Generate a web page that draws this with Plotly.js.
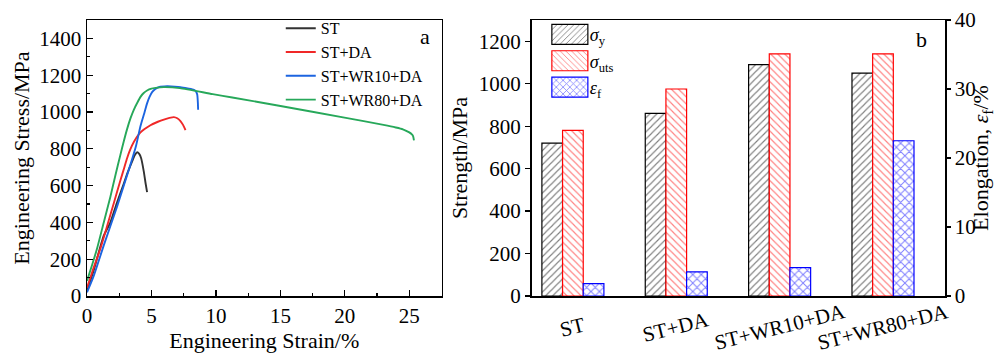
<!DOCTYPE html>
<html>
<head>
<meta charset="utf-8">
<script src="https://cdn.plot.ly/plotly-3.0.1.min.js"></script>
<style>
html,body{margin:0;padding:0;background:#fff;}
#chart{width:996px;height:359px;}
</style>
</head>
<body>
<div id="chart"></div>
<script>
// ---- Tensile curves (engineering strain %, engineering stress MPa) ----
const strainST = [0, 0.5, 1.3, 1.8, 2.3, 2.85, 3.1, 3.5, 3.7, 3.89, 4.05, 4.2, 4.4, 4.55, 4.66];
const stressST = [30, 135, 328, 398, 503, 609, 661, 731, 765, 781, 772, 749, 679, 610, 565];

const strainDA = [0, 0.5, 1.04, 1.6, 2.1, 2.6, 2.9, 3.11, 3.35, 3.63, 4.15, 4.92, 5.5, 5.96, 6.4, 6.74, 7.0, 7.25, 7.45, 7.64];
const stressDA = [45, 150, 258, 390, 510, 630, 700, 749, 795, 837, 889, 928, 947, 959, 968, 972, 966, 951, 930, 902];

const strainWR10 = [0, 0.5, 1.3, 2.33, 3.37, 3.8, 4.15, 4.45, 4.66, 4.85, 5.05, 5.3, 5.57, 6.22, 6.8, 7.25, 7.8, 8.29, 8.45, 8.55, 8.6, 8.62];
const stressWR10 = [20, 105, 275, 486, 714, 815, 924, 995, 1047, 1082, 1108, 1125, 1135, 1140, 1138, 1135, 1128, 1121, 1112, 1095, 1050, 1012];

const strainWR80 = [0, 0.4, 0.78, 1.3, 1.81, 2.2, 2.59, 2.85, 3.11, 3.37, 3.63, 3.9, 4.15, 4.4, 4.66, 5.0, 5.31, 5.96, 7.2, 9.75, 11.27, 14.9, 20.08, 23.0, 23.95, 24.5, 25.0, 25.2, 25.3, 25.36];
const stressWR80 = [82, 170, 258, 400, 538, 655, 767, 840, 907, 965, 1012, 1050, 1082, 1103, 1117, 1127, 1131, 1135, 1130, 1097, 1079, 1034, 968, 930, 916, 906, 889, 878, 868, 846];

const curveNames = ["ST", "ST+DA", "ST+WR10+DA", "ST+WR80+DA"];

// ---- Bar chart ----
const categories = ["ST", "ST+DA", "ST+WR10+DA", "ST+WR80+DA"];
const sigmaY = [720, 860, 1090, 1050];
const sigmaUTS = [780, 975, 1140, 1140];
const elongation = [1.8, 3.5, 4.1, 22.5];

const FONT = "Liberation Serif";
const W = 996, H = 359;
const ML = 87.3, MR = 51, MT = 11, MB = 63;
const PW = W - ML - MR, PH = H - MT - MB;
const px = v => (v - ML) / PW;
const py = v => (H - MB - v) / PH;

const lineColors = ["#333333", "#f02828", "#1c64e0", "#27a85a"];
const curves = [[strainST, stressST], [strainDA, stressDA], [strainWR10, stressWR10], [strainWR80, stressWR80]];

const traces = curves.map((c, i) => ({
  type: "scatter", mode: "lines", x: c[0], y: c[1], name: curveNames[i],
  line: {color: lineColors[i], width: 1.9, shape: "spline", smoothing: 0.6},
  xaxis: "x", yaxis: "y", legend: "legend"
}));

function barTrace(vals, name, color, shape, offset, yaxis, size, sol) {
  return {
    type: "bar", x: categories, y: vals, name: name,
    xaxis: "x2", yaxis: yaxis, legend: "legend2",
    width: 0.2, offset: offset,
    marker: {
      color: "#ffffff",
      line: {color: color, width: 1.2},
      pattern: {shape: shape, fgcolor: color, bgcolor: "#ffffff", size: size, solidity: sol, fillmode: "overlay"}
    }
  };
}
traces.push(barTrace(sigmaY, "<i>σ</i><sub>y</sub>", "#000000", "/", -0.3, "y2", 5, 0.22));
traces.push(barTrace(sigmaUTS, "<i>σ</i><sub>uts</sub>", "#ff0000", "\\", -0.1, "y2", 5, 0.22));
traces.push(barTrace(elongation, "<i>ε</i><sub>f</sub>", "#0000ff", "x", 0.1, "y3", 6, 0.3));

const annotations = categories.map((c, i) => ({
  x: c, xref: "x2", y: py(328), yref: "paper", text: c, showarrow: false,
  textangle: -14, xanchor: "center", yanchor: "middle",
  font: {family: FONT, size: 21, color: "#000"}
}));
annotations.push({x: px(425), y: py(28), xref: "paper", yref: "paper", text: "a", showarrow: false,
  xanchor: "center", yanchor: "middle", font: {family: FONT, size: 22, color: "#000"}});
annotations.push({x: px(922), y: py(31), xref: "paper", yref: "paper", text: "b", showarrow: false,
  xanchor: "center", yanchor: "middle", font: {family: FONT, size: 22, color: "#000"}});

const common = {
  showgrid: false, zeroline: false, showline: true, linewidth: 1.5, linecolor: "#000",
  tickcolor: "#000", tickwidth: 1.2, ticklabeloverflow: "allow",
  tickfont: {family: FONT, size: 21, color: "#000"}
};

const layout = {
  width: W, height: H,
  margin: {l: ML, r: MR, t: MT, b: MB, pad: 0},
  paper_bgcolor: "#fff", plot_bgcolor: "#fff",
  font: {family: FONT, size: 21, color: "#000"},
  showlegend: true,
  xaxis: Object.assign({}, common, {
    domain: [0, px(441.7)], anchor: "y", range: [0, 27.5],
    dtick: 5, tick0: 0, ticks: "inside", ticklen: 6,
    minor: {dtick: 2.5, ticks: "inside", ticklen: 3, tickwidth: 1.2, tickcolor: "#000"},
    mirror: true,
    title: {text: "Engineering Strain/%", font: {family: FONT, size: 22}, standoff: 6}
  }),
  yaxis: Object.assign({}, common, {
    domain: [0, 1], anchor: "x", range: [0, 1500],
    dtick: 200, tick0: 0, ticks: "inside", ticklen: 6,
    minor: {dtick: 100, ticks: "inside", ticklen: 3, tickwidth: 1.2, tickcolor: "#000"},
    mirror: true,
    title: {text: "Engineering Stress/MPa", font: {family: FONT, size: 22}, standoff: 3}
  }),
  xaxis2: Object.assign({}, common, {
    domain: [px(531.7), 1], anchor: "y2", type: "category", range: [-0.4, 3.6],
    showticklabels: false, ticks: "", mirror: true
  }),
  yaxis2: Object.assign({}, common, {
    domain: [0, 1], anchor: "x2", range: [0, 1300],
    dtick: 200, tick0: 0, ticks: "outside", ticklen: 5,
    title: {text: "Strength/MPa", font: {family: FONT, size: 22}, standoff: 5}
  }),
  yaxis3: Object.assign({}, common, {
    overlaying: "y2", side: "right", anchor: "x2", range: [0, 40],
    dtick: 10, tick0: 0, ticks: "outside", ticklen: 4,
    title: {text: "Elongation, <i>ε</i><sub>f</sub>/%", font: {family: FONT, size: 22}, standoff: 5}
  }),
  legend: {
    x: px(281), y: py(2), xanchor: "left", yanchor: "top",
    bgcolor: "rgba(0,0,0,0)", borderwidth: 0,
    font: {family: FONT, size: 16, color: "#000"}, tracegroupgap: 0
  },
  legend2: {
    x: px(550), y: py(7), xanchor: "left", yanchor: "top",
    bgcolor: "rgba(0,0,0,0)", borderwidth: 0,
    font: {family: FONT, size: 18, color: "#000"}, tracegroupgap: 0
  },
  annotations: annotations,
  bargap: 0
};

Plotly.newPlot("chart", traces, layout, {staticPlot: true, displayModeBar: false}).then(gd => {
  // widen the patterned swatches of the bar legend to match the reference's boxes
  gd.querySelectorAll(".legend2 .legendpoints path").forEach(p => {
    p.setAttribute("d", "M-18,-10H18V10H-18Z");
  });
});
</script>
</body>
</html>
